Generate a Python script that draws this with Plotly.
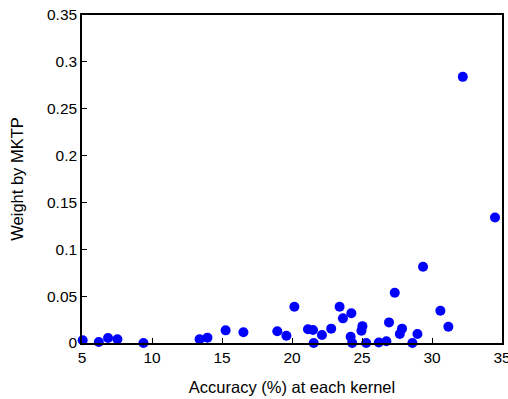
import plotly.graph_objects as go

# Accuracy (%) of each kernel and the weight MKTP assigned to it
accuracy = [5.05, 6.2, 6.86, 7.53, 9.39, 13.4, 13.96, 15.26, 16.53, 18.95,
            19.6, 20.17, 21.14, 21.5, 21.55, 22.14, 22.8, 23.4, 23.64, 24.24,
            24.19, 24.3, 25.03, 24.96, 25.3, 26.2, 26.74, 26.93, 27.34, 27.7,
            27.86, 28.6, 28.96, 29.36, 30.6, 31.17, 32.2, 34.5]
weight = [0.003, 0.001, 0.0053, 0.004, 0.0, 0.004, 0.0057, 0.0135, 0.0114, 0.0125,
          0.0078, 0.0387, 0.0146, 0.0139, 0.0, 0.0085, 0.0153, 0.0387, 0.0263, 0.0317,
          0.0067, 0.0, 0.018, 0.013, 0.0, 0.0005, 0.0018, 0.022, 0.0537, 0.0096,
          0.0153, 0.0, 0.0096, 0.0814, 0.0345, 0.0174, 0.284, 0.134]

x_ticks = [5, 10, 15, 20, 25, 30, 35]
y_ticks = [0, 0.05, 0.1, 0.15, 0.2, 0.25, 0.3, 0.35]
y_labels = ["0", "0.05", "0.1", "0.15", "0.2", "0.25", "0.3", "0.35"]

FONT = "Liberation Sans, Arial, sans-serif"

fig = go.Figure(go.Scatter(
    x=accuracy, y=weight, mode="markers",
    marker=dict(color="#0000FF", size=10, line=dict(width=0)),
    cliponaxis=False,
))

axis_common = dict(
    showline=True, linecolor="black", linewidth=1.5, mirror=True,
    ticks="inside", ticklen=5, tickwidth=1, tickcolor="black",
    showgrid=False, zeroline=False, automargin=False,
    ticklabeloverflow="allow",
    tickfont=dict(family=FONT, size=15.5, color="black"),
)

fig.update_layout(
    width=508, height=399,
    margin=dict(l=82, r=6, t=15, b=56),
    paper_bgcolor="white", plot_bgcolor="white",
    showlegend=False,
    font=dict(family=FONT, color="black"),
    xaxis=dict(range=[5, 35], tickvals=x_ticks,
               title=dict(text="Accuracy (%) at each kernel", font=dict(size=16.5), standoff=16),
               **axis_common),
    yaxis=dict(range=[0, 0.35], tickvals=y_ticks, ticktext=y_labels,
               title=dict(text="Weight by MKTP", font=dict(size=16.5), standoff=19),
               **axis_common),
)

fig.write_html("out.html")
